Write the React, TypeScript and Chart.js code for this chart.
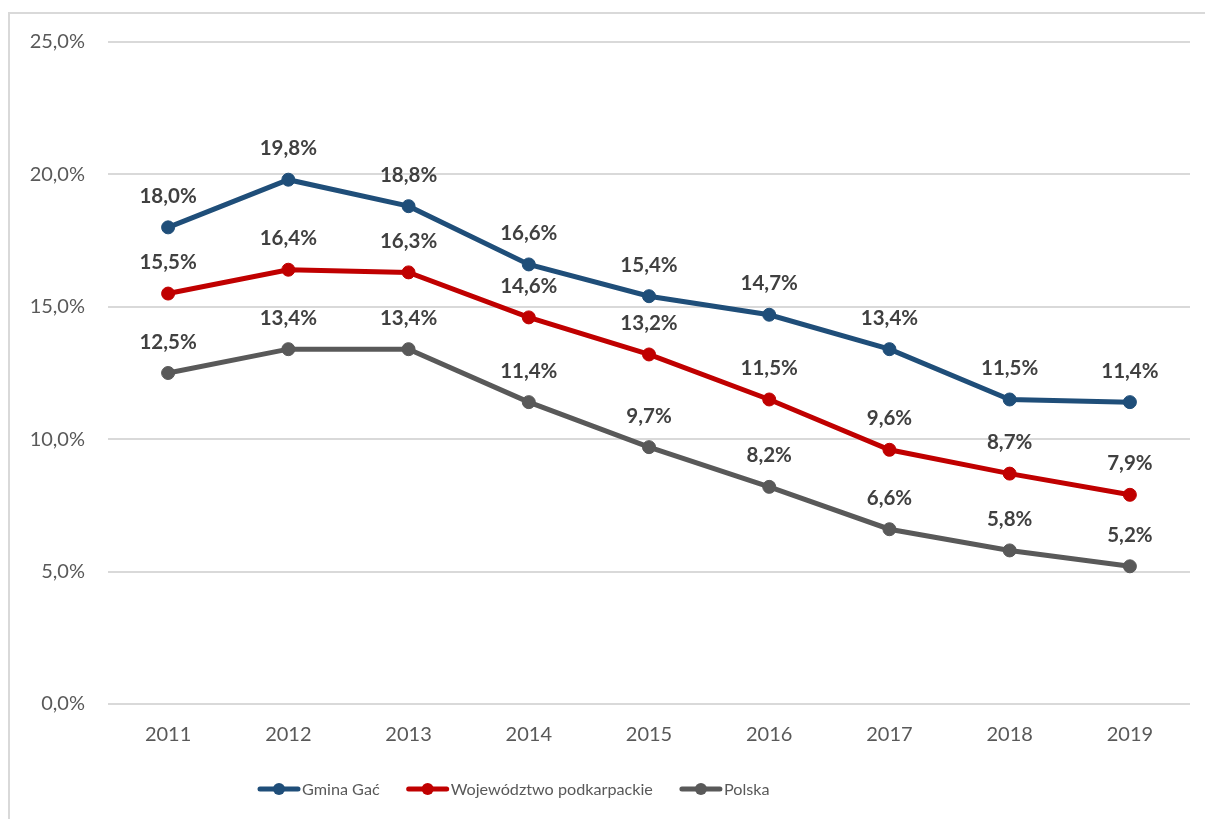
import React, { useEffect, useRef } from "react";
import { Chart, registerables } from "chart.js";

Chart.register(...registerables);

const years = ["2011", "2012", "2013", "2014", "2015", "2016", "2017", "2018", "2019"];
const gminaGac = [18.0, 19.8, 18.8, 16.6, 15.4, 14.7, 13.4, 11.5, 11.4];
const podkarpackie = [15.5, 16.4, 16.3, 14.6, 13.2, 11.5, 9.6, 8.7, 7.9];
const polska = [12.5, 13.4, 13.4, 11.4, 9.7, 8.2, 6.6, 5.8, 5.2];
const seriesNames = ["Gmina Gać", "Województwo podkarpackie", "Polska"];
const seriesColors = ["#1F4E79", "#C00000", "#595959"];
const yMin = 0;
const yMax = 25;
const yStep = 5;

const fmt = (v: number) => v.toFixed(1).replace(".", ",") + "%";

const FONT = "Lato, 'Open Sans', sans-serif";

const labelPlugin = {
  id: "pointLabels",
  afterDatasetsDraw(chart: any) {
    const ctx = chart.ctx;
    ctx.save();
    ctx.font = `bold 20.5px ${FONT}`;
    ctx.fillStyle = "#404040";
    ctx.textAlign = "center";
    ctx.textBaseline = "alphabetic";
    chart.data.datasets.forEach((ds: any, i: number) => {
      const meta = chart.getDatasetMeta(i);
      meta.data.forEach((pt: any, j: number) => {
        ctx.fillText(fmt(ds.data[j]), pt.x, pt.y - 24.5);
      });
    });
    ctx.restore();
  },
};

const legendPlugin = {
  id: "customLegend",
  afterDraw(chart: any) {
    const ctx = chart.ctx;
    ctx.save();
    ctx.font = `16.2px ${FONT}`;
    ctx.textBaseline = "alphabetic";
    ctx.textAlign = "left";
    let x = 258;
    const yLine = 789;
    chart.data.datasets.forEach((ds: any) => {
      const color = ds.borderColor;
      ctx.strokeStyle = color;
      ctx.lineWidth = 5;
      ctx.lineCap = "round";
      ctx.beginPath();
      ctx.moveTo(x + 2, yLine);
      ctx.lineTo(x + 40, yLine);
      ctx.stroke();
      ctx.fillStyle = color;
      ctx.beginPath();
      ctx.arc(x + 21, yLine, 6, 0, Math.PI * 2);
      ctx.fill();
      ctx.fillStyle = "#595959";
      ctx.fillText(ds.label, x + 44, yLine + 6);
      const w = ctx.measureText(ds.label).width;
      x = x + 44 + w + 27;
    });
    ctx.restore();
  },
};

export default function App() {
  const ref = useRef<HTMLCanvasElement>(null);

  useEffect(() => {
    if (!ref.current) return;
    const seriesData = [gminaGac, podkarpackie, polska];
    const chart = new Chart(ref.current, {
      type: "line",
      data: {
        labels: years,
        datasets: seriesData.map((d, i) => ({
          label: seriesNames[i],
          data: d,
          borderColor: seriesColors[i],
          backgroundColor: seriesColors[i],
          pointBackgroundColor: seriesColors[i],
          pointBorderColor: seriesColors[i],
          borderWidth: 5,
          pointRadius: 6.5,
          pointBorderWidth: 1,
          tension: 0,
          fill: false,
        })),
      },
      options: {
        animation: false,
        responsive: false,
        maintainAspectRatio: false,
        layout: { padding: { left: 0, right: 15, top: 42, bottom: 0 } },
        plugins: {
          legend: { display: false },
          tooltip: { enabled: false },
        },
        scales: {
          x: {
            offset: true,
            grid: { display: false, drawTicks: false },
            border: { display: false },
            ticks: {
              color: "#595959",
              font: { family: FONT, size: 20 },
              padding: 19,
            },
            afterFit: (s: any) => {
              s.height = 115;
            },
          },
          y: {
            min: yMin,
            max: yMax,
            grid: { color: "#D9D9D9", lineWidth: 2, drawTicks: false },
            border: { display: false },
            ticks: {
              stepSize: yStep,
              color: "#595959",
              font: { family: FONT, size: 20 },
              padding: 23,
              callback: (v: any) => fmt(Number(v)),
            },
            afterFit: (s: any) => {
              s.width = 108;
            },
          },
        },
      },
      plugins: [labelPlugin, legendPlugin],
    });
    return () => chart.destroy();
  }, []);

  return (
    <div style={{ position: "fixed", inset: 0, overflow: "hidden", background: "#fff" }}>
      <div
        style={{
          position: "absolute",
          left: 8,
          top: 12,
          width: 1300,
          height: 900,
          border: "2px solid #D9D9D9",
          boxSizing: "border-box",
        }}
      />
      <canvas
        ref={ref}
        width={1205}
        height={819}
        style={{ position: "absolute", left: 0, top: 0, width: 1205, height: 819 }}
      />
    </div>
  );
}
